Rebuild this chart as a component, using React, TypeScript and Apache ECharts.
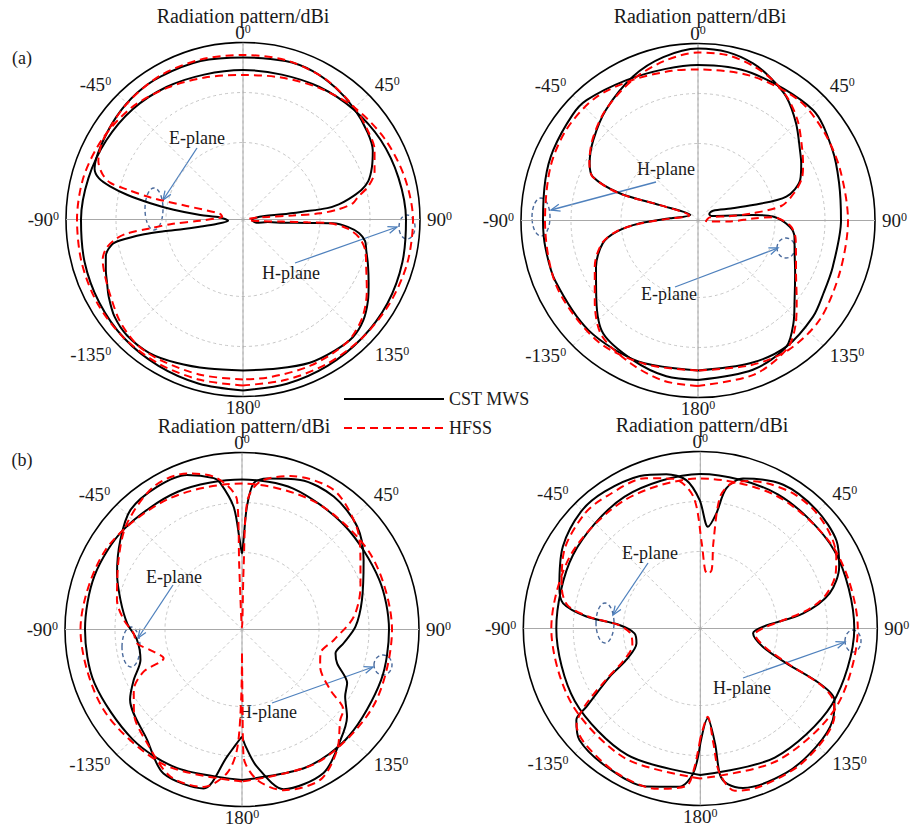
import React, { useEffect, useRef } from "react";
import * as echarts from "echarts";

type Pt = [number, number]; // [angle in degrees (clockwise from top), gain in dBi]

const TITLE = "Radiation pattern/dBi";
const LEGEND_NAMES = ["CST MWS", "HFSS"];
const GRID_RINGS = [-10, 0];
const R_MIN = -25.4;
const R_MAX = 10;

// ---------- (a) left panel ----------
const a1_E_CST: Pt[] = [
  [-180, 4.8], [-167, 5.2], [-155, 6.2], [-145, 7.2], [-135, 7.4], [-127, 6.8], [-120, 5.6], [-115, 4.6],
  [-110, 3.8], [-105, 3.0], [-101, 1.4], [-99.7, -0.4], [-98.5, -5.4], [-98.4, -9.4], [-99, -13.4],
  [-99.4, -16.6], [-99.6, -20.0], [-95, -22.4], [-85, -20.8], [-84, -16.8], [-82, -11.4], [-80, -6.6],
  [-78, -1.8], [-76, 2.0], [-74, 4.6], [-71, 6.0], [-63, 6.6], [-51, 7.2], [-40, 7.6], [-30, 7.6],
  [-15, 7.4], [0, 7.0], [15, 7.4], [25, 7.4], [35, 6.8], [45, 6.0], [55, 5.0], [62, 4.0], [68, 2.4],
  [73, 0.8], [76, -1.0], [79, -3.8], [81, -6.0], [82.3, -8.4], [82.5, -13.4], [82.5, -17.4], [81, -21.0],
  [82, -22.8], [93, -23.6], [103, -22.6], [96, -20.4], [94.5, -17.4], [93, -12.4], [92.4, -7.4],
  [94, -4.4], [96.7, -2.0], [100, -0.6], [104, 0.0], [110, 1.2], [117, 2.8], [123, 4.4], [130, 6.0],
  [137, 6.8], [145, 6.6], [155, 6.2], [167, 5.2], [180, 4.8],
];
const a1_H_CST: Pt[] = [
  [-180, 8.8], [-165, 8.6], [-150, 8.4], [-135, 8.2], [-120, 7.8], [-105, 7.4], [-90, 7.0], [-75, 6.6],
  [-60, 6.2], [-45, 5.8], [-30, 5.2], [-15, 4.6], [0, 4.5], [15, 4.6], [30, 5.2], [45, 5.8], [60, 6.4],
  [75, 6.8], [90, 7.2], [105, 7.6], [120, 8.0], [135, 8.2], [150, 8.4], [165, 8.6], [180, 8.8],
];
const a1_E_HFSS: Pt[] = [
  [-180, 6.6], [-165, 6.8], [-150, 7.2], [-140, 7.4], [-130, 6.6], [-120, 5.2], [-112, 4.4], [-106, 3.8],
  [-102, 2.6], [-99, 0.6], [-97, -1.8], [-95.4, -6.8], [-93.5, -11.4], [-91.6, -16.8], [-88, -19.8],
  [-82.5, -21.2], [-76, -20.6], [-76.5, -13.8], [-76.6, -6.4], [-75.5, -1.4], [-74.5, 2.2], [-72, 4.2],
  [-68, 5.8], [-60, 6.8], [-45, 7.4], [-30, 7.8], [-15, 7.7], [0, 7.5], [15, 7.6], [30, 7.2], [45, 6.2],
  [55, 5.2], [62, 4.4], [70, 2.6], [75, 0.6], [79, -2.0], [81.6, -3.2], [84, -6.4], [85.4, -10.0],
  [85.5, -15.4], [84, -20.4], [82, -22.8], [88, -24.4], [98, -24.0], [95, -21.4], [93, -17.4],
  [92.5, -12.4], [92.5, -8.0], [95, -4.4], [99, -1.8], [105, 0.0], [110, 0.8], [120, 3.2], [130, 5.6],
  [140, 6.8], [155, 6.8], [170, 6.6], [180, 6.6],
];
const a1_H_HFSS: Pt[] = [
  [-180, 7.8], [-165, 7.8], [-150, 8.0], [-135, 8.2], [-120, 8.2], [-105, 8.0], [-90, 7.8], [-75, 7.6],
  [-60, 7.0], [-45, 6.2], [-30, 5.0], [-15, 4.0], [0, 3.5], [15, 4.0], [30, 5.0], [45, 6.2], [60, 7.2],
  [75, 8.0], [90, 8.6], [105, 8.6], [120, 8.4], [135, 8.2], [150, 8.0], [165, 7.8], [180, 7.8],
];

// ---------- (a) right panel ----------
const a2_E_CST: Pt[] = [
  [-180, 6.5], [-168.5, 6.4], [-155, 5.4], [-140, 4.1], [-128, 0.4], [-114.4, -3.0], [-103.5, -5.8],
  [-97.8, -9.0], [-92.8, -13.8], [-85.6, -19.8], [-54, -23.5], [-68, -17.2], [-70.8, -8.8], [-67.4, -2.6],
  [-62.2, -0.9], [-52.5, 1.0], [-39.7, 3.4], [-24.3, 6.2], [-12, 8.0], [0, 9.0], [10, 8.8], [19.3, 7.9],
  [27, 6.6], [35.5, 5.0], [45.3, 2.2], [55.3, -0.6], [61, -1.8], [68.3, -3.4], [74.9, -7.1], [74.3, -14.0],
  [70, -18.4], [57, -21.8], [60, -22.8], [71, -22.6], [84.3, -14.4], [87, -10.4], [93.9, -7.0], [100, -5.8],
  [108.7, -5.0], [118, -3.4], [129.4, -0.4], [137, 2.6], [145, 5.4], [159.8, 6.4], [180, 6.5],
];
const a2_H_CST: Pt[] = [
  [-180, 4.6], [-157, 5.2], [-135, 5.6], [-113, 5.6], [-100, 5.6], [-90, 5.6], [-75, 6.2], [-64, 6.8],
  [-50, 7.4], [-42.8, 7.4], [-27, 6.1], [-12, 5.6], [0, 5.7], [20, 6.0], [46, 6.5], [62, 5.0], [75, 3.8],
  [90, 3.2], [109, 3.1], [120, 3.6], [130, 4.6], [145, 5.4], [160, 5.0], [180, 4.6],
];
const a2_E_HFSS: Pt[] = [
  [-180, 7.7], [-168, 7.4], [-155, 6.2], [-140, 4.6], [-128, 0.8], [-114, -2.8], [-103.5, -5.6],
  [-97.8, -8.8], [-93, -13.8], [-86, -19.8], [-60, -23.4], [-68, -17.2], [-71, -8.8], [-67.5, -2.6],
  [-62, -0.8], [-52.5, 1.2], [-40, 3.4], [-25, 5.6], [-12, 7.2], [0, 8.2], [10, 8.2], [20, 7.4], [28, 6.4],
  [36, 5.0], [45, 2.8], [55, 0.0], [62, -1.6], [68, -3.0], [74, -5.4], [80, -8.4], [82.5, -14.4],
  [82, -19.4], [75, -23.0], [95, -23.8], [92, -19.4], [88, -14.4], [87.5, -10.4], [93, -7.0], [100, -5.6],
  [108, -4.8], [118, -3.2], [129, 0.0], [137, 3.2], [145, 5.8], [160, 7.4], [180, 7.7],
];
const a2_H_HFSS: Pt[] = [
  [-180, 4.6], [-160, 5.2], [-140, 6.0], [-115, 5.8], [-90, 5.2], [-70, 6.0], [-55, 6.6], [-40, 6.6],
  [-25, 5.6], [-10, 5.0], [0, 4.8], [20, 5.4], [40, 6.0], [55, 5.4], [70, 4.8], [90, 4.6], [110, 4.8],
  [129, 6.0], [145, 6.2], [160, 5.4], [180, 4.6],
];

// ---------- (b) left panel ----------
const b1_E_CST: Pt[] = [
  [-180, -4.0], [-177, -2.4], [-173.3, 0.2], [-166.4, 7.3], [-151.4, 7.4], [-139.3, 3.7], [-122, 1.0],
  [-115, -1.5], [-106.7, -4.2], [-95.7, -4.3], [-86.9, -2.4], [-76.4, -0.4], [-65.8, 2.0], [-53.7, 4.8],
  [-43, 7.3], [-30.8, 7.8], [-19.6, 7.4], [-10.6, 5.4], [-8.4, 4.2], [-3.9, -0.8], [-1.5, -7.4], [0, -10.2],
  [1, -7.4], [2.3, -0.8], [4.6, 4.0], [9.4, 5.2], [21.3, 6.7], [34.6, 6.9], [48.2, 5.5], [60.3, 2.6],
  [76.2, -0.7], [88.6, -2.7], [97.7, -4.9], [104.3, -6.1], [109.6, -5.2], [117, -1.8], [123, -0.8],
  [129.7, 1.9], [138.3, 4.2], [150.4, 7.6], [165.4, 7.6], [173.8, 2.2], [178, -1.8], [180, -4.0],
];
const b1_H_CST: Pt[] = [
  [-180, 4.7], [-155, 5.2], [-135, 5.6], [-110, 6.0], [-90, 6.0], [-70, 6.0], [-50, 5.6], [-25, 5.0],
  [0, 4.6], [20, 4.6], [45, 3.8], [70, 3.8], [90, 4.0], [110, 4.2], [135, 4.8], [155, 5.0], [180, 4.7],
];
const b1_E_HFSS: Pt[] = [
  [-180, -20.6], [-179.3, -11.4], [-177.6, -1.3], [-174, 3.5], [-166.3, 7.0], [-154, 7.3], [-140.1, 4.2],
  [-128, 2.0], [-119.2, -0.6], [-113.2, -4.0], [-110.2, -8.7], [-102.6, -6.6], [-97.5, -4.2], [-92, -3.7],
  [-85.4, -1.7], [-76.7, 0.3], [-59.4, 3.2], [-47.3, 5.9], [-31.7, 8.2], [-19.4, 7.7], [-9.4, 5.3],
  [-2.2, 0.5], [-2.5, -12.8], [0, -25.0], [1.5, -12.8], [2.5, 0.6], [7, 4.4], [17.5, 6.8], [33.3, 8.0],
  [48, 5.4], [58.4, 2.4], [70.1, -0.2], [83.5, -2.9], [96.5, -6.9], [106.9, -9.0], [115.4, -8.1],
  [124.4, -4.0], [128.4, 0.5], [132.6, 1.3], [141.7, 5.3], [152.5, 8.5], [165.5, 7.8], [174.3, 4.8],
  [179.3, 0.0], [179.6, -11.4], [180, -20.6],
];
const b1_H_HFSS: Pt[] = [
  [-180, 5.0], [-150, 5.8], [-120, 6.6], [-90, 6.9], [-60, 6.2], [-30, 4.6], [0, 3.8], [30, 4.0],
  [60, 4.4], [90, 4.6], [120, 5.0], [150, 5.2], [180, 5.0],
];

// ---------- (b) right panel ----------
const b2_E_CST: Pt[] = [
  [-180, -2.4], [-177.2, 3.6], [-172.5, 6.5], [-161, 8.0], [-145.8, 8.0], [-132.7, 7.5], [-126.4, 5.4],
  [-124.5, 2.2], [-118, -4.9], [-113, -9.3], [-103, -12.3], [-94.2, -12.2], [-87.5, -9.2], [-84, -2.5],
  [-79.6, 2.5], [-73.5, 4.0], [-59.2, 6.6], [-45.5, 8.0], [-35, 8.0], [-21.6, 7.4], [-12.4, 6.2],
  [-5.4, 4.4], [-0.3, 0.3], [4.3, -5.0], [7.9, -2.2], [10.5, 3.1], [15.9, 5.8], [30, 7.8], [44.4, 7.8],
  [57.3, 7.0], [66, 5.0], [74.8, 1.4], [81.6, -4.6], [88.4, -12.8], [95.2, -14.8], [106.2, -12.4],
  [112, -6.8], [114.7, 0.8], [118, 5.0], [124.6, 6.8], [135.5, 7.7], [149.3, 8.2], [165, 7.6], [170, 6.2],
  [172.3, 4.2], [172.7, -2.2], [175.3, -7.4], [180, -2.4],
];
const b2_H_CST: Pt[] = [
  [-180, 3.9], [-150, 3.8], [-120, 3.6], [-90, 3.4], [-60, 4.0], [-30, 5.0], [0, 5.5], [30, 5.6],
  [60, 5.6], [90, 5.4], [120, 5.0], [150, 4.4], [180, 3.9],
];
const b2_E_HFSS: Pt[] = [
  [-180, -3.4], [-177.5, 2.6], [-175, 6.2], [-165, 7.8], [-150, 8.0], [-135, 7.2], [-128, 6.0], [-124, 2.6],
  [-118, -4.4], [-113, -8.6], [-104, -11.4], [-94, -11.4], [-87.5, -9.0], [-84, -3.0], [-80, 1.6],
  [-73, 3.6], [-60, 6.0], [-45, 7.2], [-35, 7.0], [-20, 6.6], [-10, 5.0], [-3, 1.0], [1, -8.4],
  [4.6, -13.6], [8, -14.4], [11, -13.4], [8.7, -8.2], [8.5, 1.2], [12, 4.2], [18, 5.6], [25, 6.6],
  [35, 7.4], [45, 7.4], [55, 6.6], [62, 5.4], [68, 3.8], [75, 0.6], [80, -3.4], [85, -9.4], [90, -13.0],
  [96, -14.4], [106, -12.0], [112, -6.2], [115, 1.0], [118, 4.6], [123, 6.6], [132, 7.8], [145, 8.4],
  [160, 8.4], [168, 7.8], [172.5, 3.6], [173.5, -2.4], [175.2, -7.7], [180, -3.4],
];
const b2_H_HFSS: Pt[] = [
  [-180, 4.6], [-150, 4.6], [-120, 4.4], [-90, 4.4], [-60, 4.4], [-30, 4.4], [0, 4.6], [30, 5.2],
  [60, 5.8], [90, 6.1], [120, 6.0], [150, 5.2], [180, 4.6],
];

// ---------- layout ----------
const FONT = "Liberation Serif";
const RADIUS = 177;
const TEXT_COLOR = "#1a1a1a";

const PANELS = [
  { center: [243, 219.5], titleAt: [243, 16], cst: [a1_E_CST, a1_H_CST], hfss: [a1_E_HFSS, a1_H_HFSS] },
  { center: [698, 220.5], titleAt: [700, 16], cst: [a2_E_CST, a2_H_CST], hfss: [a2_E_HFSS, a2_H_HFSS] },
  { center: [242, 629.5], titleAt: [244, 426], cst: [b1_E_CST, b1_H_CST], hfss: [b1_E_HFSS, b1_H_HFSS] },
  { center: [700.3, 628.5], titleAt: [702, 425], cst: [b2_E_CST, b2_H_CST], hfss: [b2_E_HFSS, b2_H_HFSS] },
];

const ANNOTATIONS = [
  { label: "E-plane", at: [197, 138], from: [197, 148], to: [163, 200], ell: [154, 209, 9, 21] },
  { label: "H-plane", at: [291, 273], from: [295, 263], to: [397, 227], ell: [407, 227, 8, 12] },
  { label: "H-plane", at: [666, 169], from: [656, 182], to: [551, 210], ell: [541, 217, 9, 19] },
  { label: "E-plane", at: [669, 294], from: [675, 287], to: [778, 248], ell: [786, 248, 9, 10] },
  { label: "E-plane", at: [174, 577], from: [173, 585], to: [138, 638], ell: [131, 647, 9, 20] },
  { label: "H-plane", at: [268, 712], from: [272, 703], to: [373, 667], ell: [383, 665, 9, 10] },
  { label: "E-plane", at: [650, 553], from: [648, 563], to: [613, 615], ell: [605, 623, 9, 20] },
  { label: "H-plane", at: [742, 688], from: [743, 678], to: [845, 642], ell: [853, 641, 8, 11] },
];

const PANEL_TAGS = [
  { text: "(a)", at: [22, 58] },
  { text: "(b)", at: [22, 460] },
];

const toPolar = (pts: Pt[]) => pts.map(([a, g]) => [g, (a + 360) % 360]);

function arrowHead(from: number[], to: number[]) {
  const dx = to[0] - from[0];
  const dy = to[1] - from[1];
  const L = Math.hypot(dx, dy);
  const ux = dx / L, uy = dy / L;
  const len = 9, half = 3.5;
  const bx = to[0] - ux * len, by = to[1] - uy * len;
  return [
    [bx - uy * half, by + ux * half],
    [to[0], to[1]],
    [bx + uy * half, by - ux * half],
  ];
}

function textEl(text: string, at: number[], size: number) {
  return {
    type: "text", silent: true, x: at[0], y: at[1],
    style: { text, fill: TEXT_COLOR, fontFamily: FONT, fontSize: size, align: "center", verticalAlign: "middle" },
  };
}

function buildOption() {
  const ringAngles: number[] = [];
  for (let a = 0; a <= 360; a += 3) ringAngles.push(a);

  const series: any[] = [];
  PANELS.forEach((p, i) => {
    GRID_RINGS.forEach((v) => {
      series.push({
        type: "line", name: "grid", coordinateSystem: "polar", polarIndex: i,
        data: ringAngles.map((a) => [v, a]), symbol: "none", smooth: true, silent: true, z: 1,
        lineStyle: { color: "#b8b8b8", width: 0.8, type: [3, 3] },
      });
    });
    [[0, 180], [90, 270]].forEach(([a1, a2]) => {
      series.push({
        type: "line", name: "axis", coordinateSystem: "polar", polarIndex: i,
        data: [[R_MAX, a1], [R_MIN, a1], [R_MAX, a2]], symbol: "none", silent: true, z: 1,
        lineStyle: { color: "#a8a8a8", width: 1 },
      });
    });
    p.cst.forEach((pts) => {
      series.push({
        type: "line", name: LEGEND_NAMES[0], coordinateSystem: "polar", polarIndex: i,
        data: toPolar(pts), symbol: "none", smooth: 0.3, z: 3,
        lineStyle: { color: "#000000", width: 2 },
        itemStyle: { color: "#000000" },
      });
    });
    p.hfss.forEach((pts) => {
      series.push({
        type: "line", name: LEGEND_NAMES[1], coordinateSystem: "polar", polarIndex: i,
        data: toPolar(pts), symbol: "none", smooth: 0.3, z: 4,
        lineStyle: { color: "#ff0000", width: 2, type: [8, 5] },
        itemStyle: { color: "#ff0000" },
      });
    });
  });

  const graphic: any[] = [];
  PANELS.forEach((p) => graphic.push(textEl(TITLE, p.titleAt, 20)));
  ANNOTATIONS.forEach((an) => {
    graphic.push({
      type: "ellipse", silent: true,
      shape: { cx: an.ell[0], cy: an.ell[1], rx: an.ell[2], ry: an.ell[3] },
      style: { fill: "none", stroke: "#4a6a9c", lineWidth: 1.4, lineDash: [4, 3] },
    });
    graphic.push({
      type: "line", silent: true,
      shape: { x1: an.from[0], y1: an.from[1], x2: an.to[0], y2: an.to[1] },
      style: { stroke: "#4f81bd", lineWidth: 1.3 },
    });
    graphic.push({
      type: "polyline", silent: true,
      shape: { points: arrowHead(an.from, an.to) },
      style: { stroke: "#4f81bd", lineWidth: 1.3, fill: "none" },
    });
    graphic.push(textEl(an.label, an.at, 18));
  });
  PANEL_TAGS.forEach((t) => graphic.push(textEl(t.text, t.at, 18)));

  return {
    animation: false,
    backgroundColor: "#ffffff",
    legend: {
      data: LEGEND_NAMES, orient: "vertical", left: 343, top: 390, itemWidth: 100, itemHeight: 12,
      itemGap: 11, padding: 0,
      itemStyle: { opacity: 0 },
      textStyle: { fontFamily: FONT, fontSize: 18, color: TEXT_COLOR },
    },
    polar: PANELS.map((p) => ({ center: p.center, radius: RADIUS })),
    angleAxis: PANELS.map((_, i) => ({
      polarIndex: i, type: "value", min: 0, max: 360, interval: 45, startAngle: 90, clockwise: true,
      axisLine: { show: true, lineStyle: { color: "#000000", width: 1.6 } },
      axisTick: { show: false },
      splitLine: { show: true, lineStyle: { color: "#b8b8b8", width: 0.8, type: [3, 3] } },
      axisLabel: {
        margin: 1, color: TEXT_COLOR, fontFamily: FONT, fontSize: 19,
        formatter: (v: number) => {
          if (v >= 360) return "";
          const a = v > 180 ? v - 360 : v;
          return `{n|${a}}{s|0}`;
        },
        rich: {
          n: { fontFamily: FONT, fontSize: 19, color: TEXT_COLOR, padding: [0, 0, 0, 6] },
          s: { fontFamily: FONT, fontSize: 12, color: TEXT_COLOR, verticalAlign: "top", padding: [0, 6, 0, 0] },
        },
      },
    })),
    radiusAxis: PANELS.map((_, i) => ({
      polarIndex: i, type: "value", min: R_MIN, max: R_MAX,
      axisLine: { show: false }, axisTick: { show: false }, axisLabel: { show: false }, splitLine: { show: false },
    })),
    series,
    graphic,
  };
}

export default function App() {
  const ref = useRef<HTMLDivElement>(null);
  useEffect(() => {
    if (!ref.current) return;
    const chart = echarts.init(ref.current, undefined, { renderer: "svg" });
    chart.setOption(buildOption() as any);
    return () => chart.dispose();
  }, []);
  return (
    <div
      ref={ref}
      style={{ position: "fixed", left: 0, top: 0, width: 913, height: 825, background: "#ffffff" }}
    />
  );
}
